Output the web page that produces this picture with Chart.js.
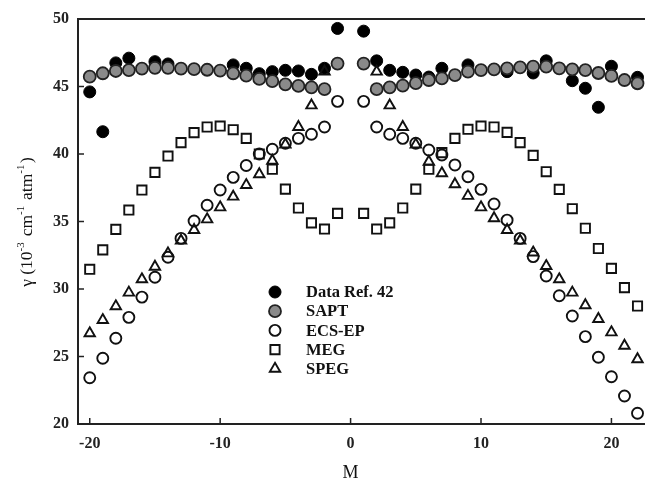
<!DOCTYPE html>
<html><head><meta charset="utf-8">
<script src="https://cdn.jsdelivr.net/npm/chart.js@4"></script>
<style>
html,body{margin:0;padding:0;overflow:hidden;background:#fff;width:645px;height:483px}
#wrap{width:645px;height:483px;overflow:hidden;position:relative}
canvas{display:block}
</style></head><body><div id="wrap"><canvas id="c" width="672" height="483" style="width:672px;height:483px"></canvas></div>
<script>
// ---- data ----
const refM   = [-20,-19,-18,-17,-15,-14,-9,-8,-7,-6,-5,-4,-3,-2,-1,1,2,3,4,5,6,7,9,12,14,15,17,18,19,20,22];
const refVal = [44.6,41.65,46.75,47.1,46.84,46.67,46.6,46.35,45.95,46.1,46.2,46.15,45.9,46.35,49.3,49.1,46.9,46.2,46.05,45.85,45.7,46.35,46.6,46.1,46.0,46.9,45.43,44.87,43.46,46.5,45.68];

const mAll = [-20,-19,-18,-17,-16,-15,-14,-13,-12,-11,-10,-9,-8,-7,-6,-5,-4,-3,-2,-1,1,2,3,4,5,6,7,8,9,10,11,12,13,14,15,16,17,18,19,20,21,22];
const saptVal = [45.73,45.98,46.15,46.22,46.32,46.38,46.38,46.32,46.28,46.24,46.18,45.98,45.8,45.56,45.4,45.16,45.04,44.94,44.8,46.7,46.7,44.8,44.94,45.06,45.25,45.48,45.6,45.85,46.1,46.22,46.27,46.35,46.42,46.47,46.47,46.35,46.27,46.22,46.0,45.78,45.48,45.24];
const ecsVal  = [23.43,24.87,26.35,27.9,29.4,30.87,32.35,33.75,35.04,36.2,37.33,38.27,39.15,40.0,40.35,40.8,41.16,41.46,42.0,43.9,43.9,42.0,41.46,41.16,40.8,40.3,39.93,39.19,38.32,37.38,36.3,35.1,33.75,32.4,30.96,29.5,28.0,26.47,24.94,23.5,22.07,20.8];
const megVal  = [31.46,32.9,34.42,35.85,37.33,38.64,39.85,40.84,41.58,42.0,42.07,41.8,41.16,40.0,38.87,37.4,36.0,34.9,34.44,35.6,35.6,34.44,34.9,36.0,37.4,38.87,40.1,41.16,41.83,42.07,42.0,41.6,40.84,39.9,38.69,37.38,35.95,34.5,33.0,31.53,30.1,28.74];

const spegM   = [-20,-19,-18,-17,-16,-15,-14,-13,-12,-11,-10,-9,-8,-7,-6,-5,-4,-3,-2,2,3,4,5,6,7,8,9,10,11,12,13,14,15,16,17,18,19,20,21,22];
const spegVal = [26.72,27.7,28.72,29.73,30.72,31.65,32.64,33.58,34.37,35.16,36.05,36.84,37.7,38.5,39.5,40.7,42.0,43.6,46.1,46.1,43.6,42.0,40.7,39.43,38.57,37.76,36.9,36.05,35.24,34.37,33.58,32.7,31.7,30.72,29.73,28.8,27.78,26.79,25.8,24.8];

const seriesNames = ['Data Ref. 42','SAPT','ECS-EP','MEG','SPEG'];
const xTicks = [-20,-10,0,10,20];
const yTicks = [20,25,30,35,40,45,50];

const pts = (xs, ys) => xs.map((x, i) => ({x, y: ys[i]}));

const styles = [
  {pointStyle:'circle',   r:6,   bg:'#000',    bc:'#000', bw:1,   order:5},
  {pointStyle:'circle',   r:6,   bg:'#8a8a8a', bc:'#222', bw:1.8, order:4},
  {pointStyle:'circle',   r:5.5, bg:'rgba(0,0,0,0)', bc:'#111', bw:1.9, order:3},
  {pointStyle:'rect',     r:6.5, bg:'rgba(0,0,0,0)', bc:'#111', bw:1.9, order:2},
  {pointStyle:'triangle', r:6,   bg:'rgba(0,0,0,0)', bc:'#111', bw:1.9, order:1}
];
const dataSets = [pts(refM, refVal), pts(mAll, saptVal), pts(mAll, ecsVal), pts(mAll, megVal), pts(spegM, spegVal)];

const datasets = dataSets.map((d, i) => ({
  label: seriesNames[i], data: d, showLine: false,
  pointStyle: styles[i].pointStyle, pointRadius: styles[i].r, pointHoverRadius: styles[i].r,
  backgroundColor: styles[i].bg, borderColor: styles[i].bc, borderWidth: styles[i].bw,
  pointBackgroundColor: styles[i].bg, pointBorderColor: styles[i].bc, pointBorderWidth: styles[i].bw,
  order: styles[i].order
}));

function drawMarker(ctx, st, x, y) {
  ctx.save();
  ctx.lineWidth = st.bw; ctx.strokeStyle = st.bc; ctx.fillStyle = st.bg;
  ctx.beginPath();
  const r = st.r;
  if (st.pointStyle === 'circle') ctx.arc(x, y, r, 0, Math.PI * 2);
  else if (st.pointStyle === 'rect') { const s = Math.SQRT1_2 * r; ctx.rect(x - s, y - s, 2 * s, 2 * s); }
  else { for (let k = 0; k < 3; k++) { const a = k * 2 * Math.PI / 3; const px = x + Math.sin(a) * r, py = y - Math.cos(a) * r; k ? ctx.lineTo(px, py) : ctx.moveTo(px, py); } ctx.closePath(); }
  ctx.fill(); ctx.stroke();
  ctx.restore();
}

const deco = {
  id: 'deco',
  afterDraw(chart) {
    const {ctx, chartArea: a, scales: {x, y}} = chart;
    ctx.save();
    ctx.strokeStyle = '#222'; ctx.lineWidth = 1.5;
    x.ticks.forEach(t => { const px = x.getPixelForValue(t.value); ctx.beginPath(); ctx.moveTo(px, a.bottom); ctx.lineTo(px, a.bottom - 6); ctx.stroke(); });
    y.ticks.forEach(t => { const py = y.getPixelForValue(t.value); ctx.beginPath(); ctx.moveTo(a.left, py); ctx.lineTo(a.left + 6, py); ctx.stroke(); });
    ctx.lineWidth = 2;
    ctx.beginPath(); ctx.moveTo(a.left, a.top); ctx.lineTo(a.right, a.top); ctx.stroke();

    // legend
    const lx = 275, ly0 = 292, dy = 19.2;
    ctx.fillStyle = '#111'; ctx.font = 'bold 16.5px "Liberation Serif", "Times New Roman", serif';
    ctx.textAlign = 'left'; ctx.textBaseline = 'middle';
    seriesNames.forEach((n, i) => {
      const yy = ly0 + i * dy;
      drawMarker(ctx, styles[i], lx, yy);
      ctx.fillText(n, 306, yy + 1);
    });

    // x title
    ctx.font = '18px "Liberation Serif", "Times New Roman", serif';
    ctx.textAlign = 'center';
    ctx.fillText('M', x.getPixelForValue(0), 473);

    // y title with superscripts
    const parts = [['γ (10', false], ['-3', true], [' cm', false], ['-1', true], [' atm', false], ['-1', true], [')', false]];
    const fN = '17.5px "Liberation Serif", "Times New Roman", serif';
    const fS = '11px "Liberation Serif", "Times New Roman", serif';
    let total = 0;
    parts.forEach(p => { ctx.font = p[1] ? fS : fN; total += ctx.measureText(p[0]).width + (p[1] ? 1.5 : 0); });
    ctx.translate(27, 222); ctx.rotate(-Math.PI / 2);
    ctx.textAlign = 'left'; ctx.textBaseline = 'middle';
    let cx = -total / 2;
    parts.forEach(p => {
      ctx.font = p[1] ? fS : fN;
      ctx.fillText(p[0], cx, p[1] ? -6 : 0);
      cx += ctx.measureText(p[0]).width + (p[1] ? 1.5 : 0);
    });
    ctx.restore();
  }
};

const tickFont = {family: '"Liberation Serif", "Times New Roman", serif', size: 16, weight: 'bold'};

new Chart(document.getElementById('c'), {
  type: 'scatter',
  data: {datasets},
  options: {
    responsive: false, animation: false, devicePixelRatio: 1,
    layout: {padding: {top: 19, right: 1, left: 0, bottom: 0}},
    plugins: {legend: {display: false}, tooltip: {enabled: false}},
    scales: {
      x: {
        type: 'linear', min: -20.9, max: 24,
        afterFit: s => { s.height = 59; },
        afterBuildTicks: s => { s.ticks = xTicks.map(v => ({value: v})); },
        grid: {display: false, drawTicks: false},
        border: {display: true, color: '#222', width: 2},
        ticks: {font: tickFont, color: '#222', padding: 10, includeBounds: false, maxRotation: 0}
      },
      y: {
        type: 'linear', min: 20, max: 50,
        afterFit: s => { s.width = 78; },
        afterBuildTicks: s => { s.ticks = yTicks.map(v => ({value: v})); },
        grid: {display: false, drawTicks: false},
        border: {display: true, color: '#222', width: 2},
        ticks: {font: tickFont, color: '#222', padding: 9, includeBounds: false}
      }
    }
  },
  plugins: [deco]
});
</script></body></html>
